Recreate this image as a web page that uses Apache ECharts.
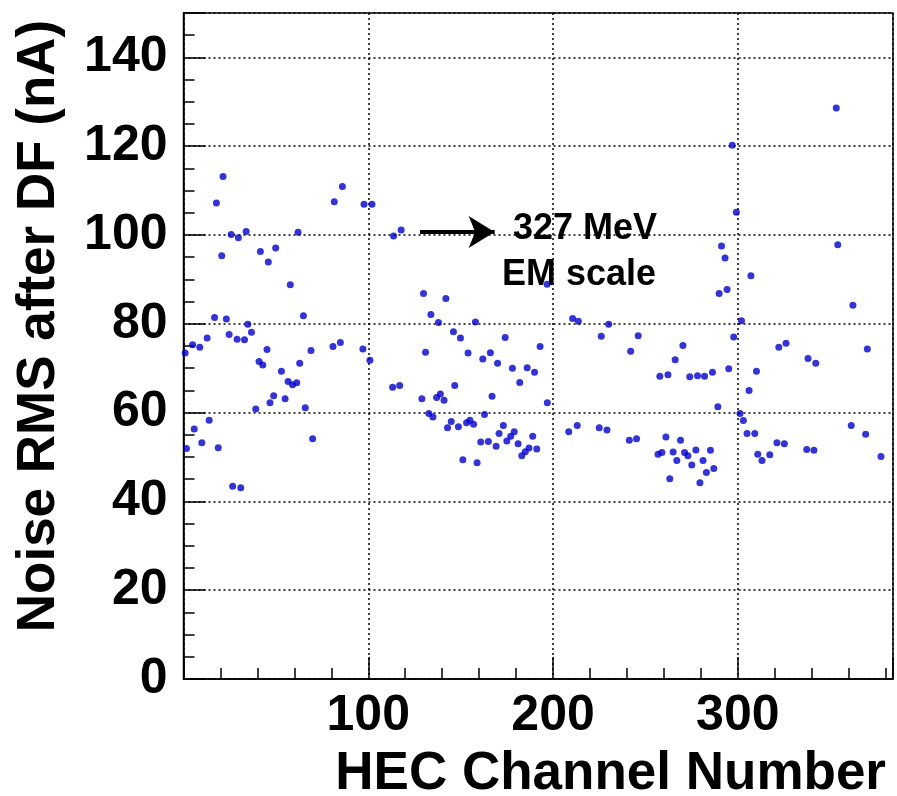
<!DOCTYPE html>
<html>
<head>
<meta charset="utf-8">
<script src="https://cdn.jsdelivr.net/npm/echarts@6/dist/echarts.min.js"></script>
<style>
  html, body { margin: 0; padding: 0; background: #fff; }
  #chart { width: 897px; height: 796px; }
</style>
</head>
<body>
<div id="chart"></div>
<script>
// channel numbers
const channel = [
  0.9, 1.6, 4.9, 5.8, 8.8, 9.9, 12.8, 13.9, 16.8, 17.8, 18.8, 20.7, 21.4, 23.2, 24.7, 25.8,
  26.6, 29.0, 29.7, 31.0, 33.0, 33.9, 34.8, 36.8, 39.1, 40.9, 41.6, 42.9, 45.2, 45.9, 46.8,
  48.8, 49.9, 53.0, 55.0, 56.6, 57.8, 59.0, 61.3, 62.0, 62.9, 64.9, 65.9, 69.0, 69.9, 80.9,
  81.6, 84.9, 86.0, 97.1, 97.7, 100.9, 102.0,
  113.7, 117.8, 113.2, 117.0, 129.9, 142.0, 133.9, 138.0, 158.0, 146.1, 149.9, 174.1, 193.0,
  131.0, 154.0, 166.1, 162.0, 170.0, 178.0, 186.0, 190.0, 182.0, 146.8, 167.0, 129.0, 137.0,
  139.0, 141.0, 196.9, 196.8, 132.8, 135.0, 162.9, 144.9, 142.9, 148.8, 153.2, 155.0, 157.0,
  173.1, 170.8, 179.0, 177.1, 160.9, 165.0, 169.2, 175.0, 181.1, 189.0, 187.0, 185.0, 183.1,
  191.2, 151.2, 158.9,
  208.5, 210.6, 213.7, 213.1, 226.1, 230.1, 225.0, 229.2, 242.0, 246.1, 241.3, 245.2, 257.8,
  262.2, 266.1, 270.3, 274.0, 278.2, 282.0, 286.3, 289.2, 295.1, 297.8, 289.9, 294.2, 291.2,
  293.1, 297.0, 299.2, 302.0, 301.2, 303.0, 305.0, 309.2, 306.1, 307.1, 310.1, 261.1, 269.0,
  256.8, 258.9, 265.0, 271.2, 273.0, 277.3, 285.2, 267.0, 275.1, 281.2, 283.0, 287.0, 263.2,
  279.5, 310.8,
  353.3, 354.1, 362.3, 322.2, 326.1, 370.1, 338.0, 342.2, 361.4, 369.2, 321.2, 325.2, 313.1,
  317.3, 337.3, 341.2, 377.5
]
// noise rms (nA), same order
const noise = [
  73.4, 51.9, 75.3, 56.3, 74.7, 53.2, 76.8, 58.3, 81.4, 107.2, 52.1, 95.3, 113.2, 81.1, 77.6, 100.1,
  43.4, 76.5, 99.4, 43.1, 76.4, 100.8, 79.9, 78.1, 60.8, 71.5, 96.3, 70.7, 74.2, 93.9, 62.2,
  63.8, 97.1, 69.3, 63.1, 67.0, 88.8, 66.3, 66.7, 100.6, 71.1, 81.8, 61.1, 74.0, 54.1, 74.9,
  107.5, 75.8, 110.9, 74.3, 106.9, 71.8, 106.9,
  99.8, 101.1, 65.7, 66.1, 86.8, 85.7, 82.1, 80.3, 80.4, 78.2, 76.8, 76.9, 74.9,
  73.6, 73.4, 73.5, 72.1, 71.1, 70.0, 70.1, 69.1, 66.8, 66.1, 63.7, 63.1, 63.4,
  64.2, 62.8, 62.2, 88.9, 59.8, 59.0, 59.6, 58.0, 56.6, 56.8, 57.7, 58.3, 57.4,
  57.1, 55.3, 55.7, 54.7, 53.4, 53.5, 52.4, 53.6, 53.0, 54.7, 52.0, 51.2, 50.3,
  51.8, 49.4, 48.7,
  55.7, 81.2, 80.6, 57.1, 77.2, 79.9, 56.6, 56.1, 73.8, 77.3, 53.8, 54.1, 68.2,
  68.5, 71.9, 75.1, 68.1, 68.3, 68.2, 69.1, 61.3, 69.9, 77.0, 86.8, 87.7, 97.5,
  94.8, 120.2, 105.1, 80.7, 59.8, 58.2, 55.3, 55.3, 65.0, 90.8, 69.3, 54.5, 53.8,
  50.6, 51.0, 51.1, 51.0, 50.3, 51.6, 51.5, 49.2, 48.2, 49.2, 46.5, 47.4, 45.1,
  44.2, 50.6,
  128.6, 97.8, 84.2, 74.7, 75.6, 74.3, 72.2, 71.1, 57.1, 55.1, 53.2, 53.0, 49.2,
  50.5, 51.7, 51.5, 50.1
]
const xTicks = [100, 200, 300]
const yTicks = [0, 20, 40, 60, 80, 100, 120, 140]

const FONT = '"Liberation Sans", Arial, Helvetica, sans-serif'
const points = channel.map((c, i) => [c, noise[i]])

const chart = echarts.init(document.getElementById('chart'))
const dotted = { color: '#000', width: 1.5, type: [2, 3] }

chart.setOption({
  animation: false,
  grid: {
    left: 183.5, right: 4, top: 13, bottom: 117,
    show: true, borderColor: '#000', borderWidth: 1.5
  },
  xAxis: [
    {
      // minor ticks every 20
      type: 'value', min: 0, max: 384, interval: 20,
      axisLine: { show: true, lineStyle: { color: '#000', width: 1.5 } },
      axisTick: { inside: true, length: 11, lineStyle: { color: '#000', width: 1.5 } },
      axisLabel: { show: false },
      splitLine: { show: false }
    },
    {
      type: 'value', min: 0, max: 384, interval: 100, position: 'bottom',
      axisLine: { show: false },
      axisTick: { inside: true, length: 22, lineStyle: { color: '#000', width: 1.5 } },
      axisLabel: {
        margin: 12, color: '#000', fontSize: 50, fontWeight: 'bold', fontFamily: FONT,
        formatter: v => xTicks.includes(v) ? String(v) : ''
      },
      splitLine: { show: true, lineStyle: dotted }
    }
  ],
  yAxis: [
    {
      type: 'value', min: 0, max: 150, interval: 5,
      axisLine: { show: true, lineStyle: { color: '#000', width: 1.5 } },
      axisTick: { inside: true, length: 11, lineStyle: { color: '#000', width: 1.5 } },
      axisLabel: { show: false },
      splitLine: { show: false }
    },
    {
      type: 'value', min: 0, max: 150, interval: 20, position: 'left',
      axisLine: { show: false },
      axisTick: { inside: true, length: 22, lineStyle: { color: '#000', width: 1.5 } },
      axisLabel: {
        margin: 16, color: '#000', fontSize: 50, fontWeight: 'bold', fontFamily: FONT,
        formatter: v => yTicks.includes(v) ? String(v) : ''
      },
      splitLine: { show: true, lineStyle: dotted }
    }
  ],
  series: [
    {
      type: 'scatter',
      xAxisIndex: 0, yAxisIndex: 0,
      data: points,
      symbol: 'circle',
      symbolSize: 7,
      itemStyle: { color: '#0000cc' },
      markLine: {
        silent: true,
        symbol: ['none', 'arrow'],
        symbolSize: [24, 26],
        label: { show: false },
        lineStyle: { color: '#000', width: 4, type: 'solid' },
        data: [[{ coord: [128.0, 100.7] }, { coord: [168.4, 100.7] }]]
      }
    }
  ],
  graphic: [
    {
      type: 'text', x: 39, y: 326, rotation: Math.PI / 2,
      style: {
        text: 'Noise RMS after DF (nA)', fill: '#000',
        font: 'bold 53px ' + FONT, textAlign: 'center', textVerticalAlign: 'middle'
      }
    },
    {
      type: 'text', x: 886, y: 774,
      style: {
        text: 'HEC Channel Number', fill: '#000',
        font: 'bold 53px ' + FONT, textAlign: 'right', textVerticalAlign: 'middle'
      }
    },
    {
      type: 'text', x: 513, y: 229,
      style: {
        text: '327 MeV', fill: '#000',
        font: 'bold 36px ' + FONT, textAlign: 'left', textVerticalAlign: 'middle'
      }
    },
    {
      type: 'text', x: 502, y: 275,
      style: {
        text: 'EM scale', fill: '#000',
        font: 'bold 36px ' + FONT, textAlign: 'left', textVerticalAlign: 'middle'
      }
    }
  ]
})
</script>
</body>
</html>
